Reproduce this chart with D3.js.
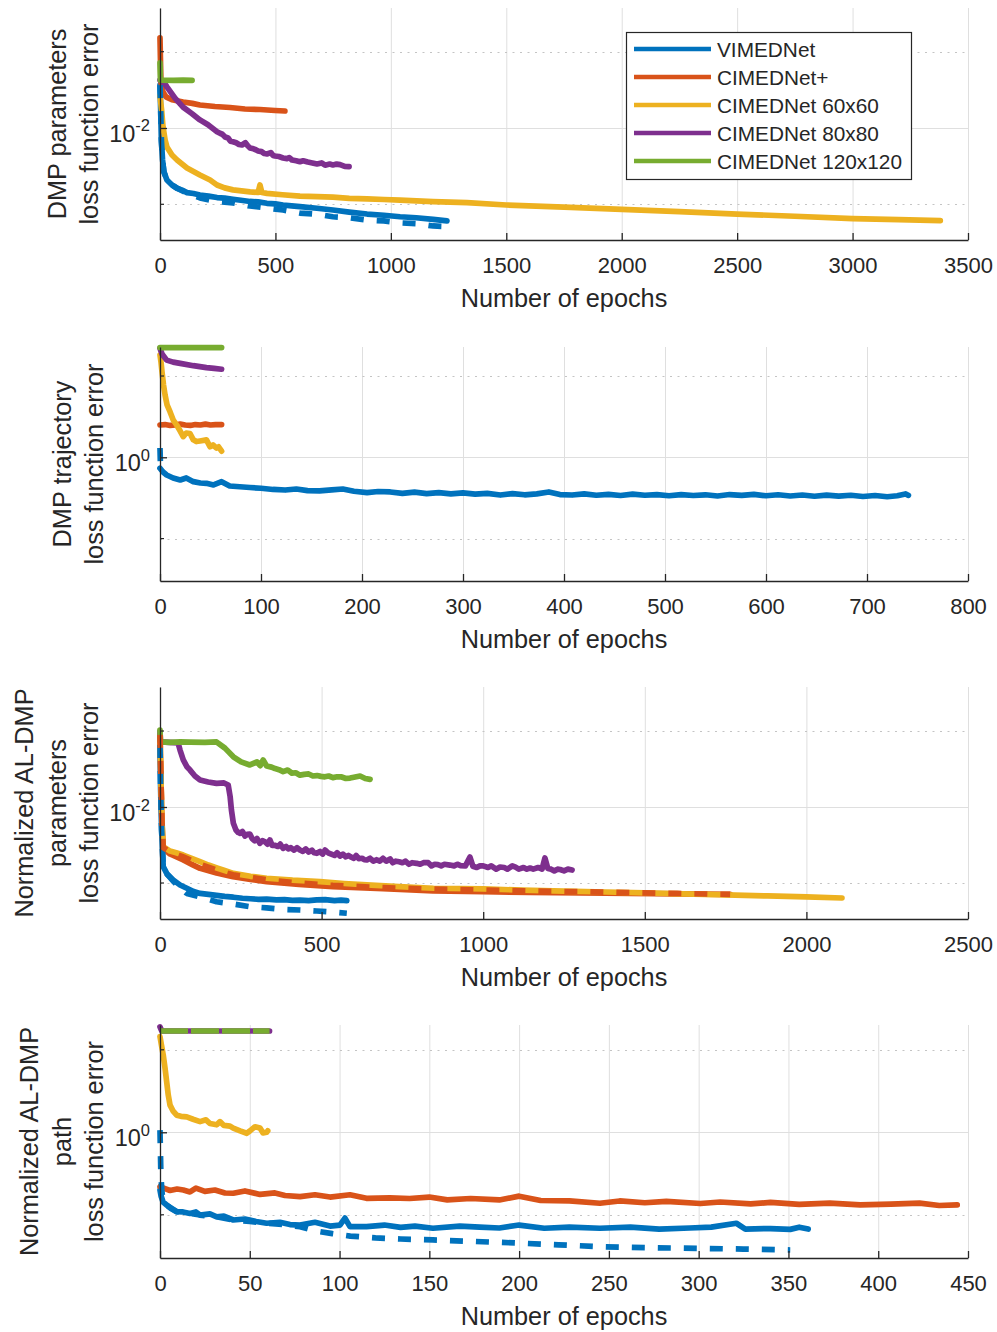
<!DOCTYPE html>
<html>
<head>
<meta charset="utf-8">
<script src="https://cdn.jsdelivr.net/npm/d3@7"></script>
<style>
  body { margin: 0; background: #fff; }
  svg { display: block; }
  text { font-family: "Liberation Sans", Arial, Helvetica, sans-serif; fill: #262626; }
</style>
</head>
<body>
<svg id="chart" width="997" height="1332"></svg>
<script>
// ---- series ----
const seriesNames = ["VIMEDNet", "CIMEDNet+", "CIMEDNet 60x60", "CIMEDNet 80x80", "CIMEDNet 120x120"];
const seriesColors = ["#0072BD", "#D95319", "#EDB120", "#7E2F8E", "#77AC30"];

// ---- DMP parameters loss, [epoch, loss] ----
const p1Vimed = [[0,0.0191],[3,0.0131],[6,0.00834],[11,0.00617],[17,0.00515],[30,0.00456],[52,0.00423],[74,0.00403],[95,0.00392],[117,0.00377],[145,0.00372],[173,0.00364],[210,0.00358],[247,0.0035],[280,0.00347],[316,0.00341],[350,0.00336],[390,0.0033],[425,0.00328],[463,0.00321],[500,0.00318],[533,0.00313],[570,0.00309],[606,0.00305],[680,0.00298],[749,0.0029],[820,0.00281],[897,0.00273],[970,0.00268],[1040,0.00262],[1110,0.00258],[1183,0.00252],[1243,0.00246]];
const p1VimedVal = [[0,0.0191],[3,0.0131],[6,0.00834],[11,0.00617],[17,0.00515],[30,0.00456],[52,0.00423],[74,0.00403],[117,0.00375],[173,0.00348],[245,0.0033],[316,0.00323],[390,0.00308],[463,0.00299],[533,0.0029],[606,0.00277],[680,0.00272],[749,0.00262],[820,0.00258],[897,0.00249],[970,0.00246],[1040,0.00239],[1110,0.00236],[1183,0.00228],[1243,0.00226]];
const p1CimedPlus = [[0,0.0389],[2,0.0279],[4,0.02],[13,0.0172],[26,0.016],[52,0.0153],[100,0.0148],[140,0.0145],[173,0.01415],[238,0.01383],[303,0.01362],[368,0.01332],[433,0.01322],[498,0.01302],[541,0.01292]];
const p1Cimed60 = [[0,0.0162],[7,0.0131],[13,0.0102],[22,0.00834],[30,0.00751],[52,0.00665],[74,0.00617],[117,0.00547],[173,0.00492],[217,0.00456],[247,0.00423],[280,0.00405],[316,0.00393],[390,0.00381],[425,0.00378],[433,0.00423],[441,0.00378],[463,0.00373],[530,0.00365],[606,0.00358],[680,0.00355],[749,0.00352],[820,0.00346],[897,0.00343],[970,0.0034],[1040,0.00337],[1183,0.00329],[1330,0.00324],[1500,0.00313],[1750,0.00303],[2000,0.00293],[2250,0.00283],[2500,0.00273],[2750,0.00264],[3000,0.00255],[3200,0.00251],[3380,0.00247]];
const p1Cimed80 = [[0,0.0206],[4,0.0206],[22,0.0194],[30,0.0186],[65,0.0157],[100,0.0137],[139,0.0124],[173,0.0113],[208,0.0105],[247,0.00946],[262,0.0092],[270,0.0091],[282,0.00873],[295,0.0086],[305,0.0082],[316,0.00813],[330,0.008],[342,0.0078],[355,0.00774],[370,0.008],[380,0.00765],[390,0.0074],[405,0.0073],[415,0.0072],[425,0.00707],[440,0.007],[452,0.0068],[463,0.00676],[480,0.0069],[490,0.0066],[498,0.00655],[515,0.0065],[533,0.00636],[550,0.0063],[560,0.0064],[572,0.00617],[590,0.0061],[606,0.00601],[620,0.0061],[640,0.00598],[660,0.0059],[680,0.00581],[700,0.0059],[715,0.0057],[735,0.0058],[749,0.00572],[765,0.0058],[780,0.00575],[800,0.0056],[819,0.00558]];
const p1Cimed120 = [[0,0.0267],[2,0.0206],[60,0.0205],[100,0.0206],[139,0.0205]];

// ---- DMP trajectory loss ----
const p2Vimed = [[0,0.856],[3,0.812],[6.6,0.778],[13,0.746],[20,0.725],[26,0.746],[33,0.708],[40,0.695],[46,0.692],[53,0.676],[61,0.708],[69,0.666],[79,0.659],[89,0.652],[100,0.645],[112,0.634],[124,0.629],[135,0.638],[146,0.624],[158,0.621],[170,0.63],[181,0.638],[192,0.618],[205,0.606],[216,0.616],[228,0.612],[240,0.6],[252,0.61],[264,0.598],[276,0.606],[288,0.596],[300,0.604],[312,0.594],[324,0.6],[337,0.586],[349,0.598],[361,0.588],[373,0.596],[385,0.612],[396,0.59],[408,0.586],[420,0.596],[432,0.584],[444,0.592],[456,0.582],[468,0.594],[480,0.584],[492,0.59],[504,0.58],[516,0.59],[528,0.582],[540,0.588],[552,0.578],[564,0.59],[576,0.583],[588,0.592],[600,0.58],[612,0.588],[624,0.578],[636,0.586],[648,0.576],[660,0.585],[672,0.577],[684,0.584],[696,0.574],[708,0.582],[720,0.572],[730,0.58],[738,0.595],[741,0.584]];
const p2VimedVal = [[0,1.14],[0.3,0.97],[0.6,0.86]];
const p2CimedPlus = [[0,1.58],[5,1.59],[10,1.57],[15,1.58],[20,1.6],[25,1.58],[30,1.57],[35,1.59],[40,1.58],[45,1.6],[50,1.58],[55,1.59],[61,1.59]];
const p2Cimed60 = [[0,4.26],[1,3.85],[2,3.35],[3.5,2.78],[5,2.42],[7,2.1],[10,1.9],[13,1.7],[16.5,1.58],[20,1.45],[23,1.34],[26,1.41],[29.7,1.4],[33,1.28],[36,1.25],[39.6,1.26],[46,1.28],[49.5,1.16],[52.5,1.19],[56,1.14],[58,1.16],[61,1.09]];
const p2Cimed80 = [[0,4.68],[2,4.32],[6.6,3.96],[13,3.85],[20,3.78],[33,3.66],[46,3.56],[53.5,3.52],[61,3.48]];
const p2Cimed120 = [[0,4.73],[20,4.73],[40,4.73],[61,4.73]];

// ---- Normalized AL-DMP parameters loss ----
const p3Vimed = [[0,0.0256],[2,0.0129],[5,0.00706],[10,0.00405],[22,0.00362],[41,0.00331],[62,0.00307],[83,0.00292],[104,0.00278],[124,0.0027],[150,0.00266],[175,0.00262],[200,0.00258],[227,0.00255],[255,0.00251],[280,0.00249],[305,0.00247],[330,0.00248],[360,0.00245],[385,0.00246],[410,0.00243],[433,0.00244],[460,0.00242],[485,0.00245],[511,0.00246],[540,0.00242],[560,0.00244],[578,0.00242]];
const p3VimedVal = [[0,0.0256],[2,0.0129],[5,0.00706],[10,0.00405],[22,0.00362],[41,0.00325],[62,0.00295],[83,0.0027],[124,0.00256],[175,0.00238],[226,0.0023],[278,0.00221],[330,0.00217],[381,0.00212],[433,0.0021],[485,0.00207],[530,0.00204],[578,0.002]];
const p3CimedPlus = [[0,0.0298],[3,0.01505],[6,0.00797],[10,0.00535],[31,0.00491],[72,0.00448],[100,0.00418],[124,0.00395],[175,0.00368],[226,0.00348],[280,0.00334],[330,0.00323],[430,0.0031],[535,0.00299],[690,0.0029],[845,0.00281],[1000,0.00277],[1145,0.00274],[1300,0.00272],[1454,0.0027],[1600,0.00268],[1764,0.00266]];
const p3CimedPlusVal = [[0,0.0298],[3,0.0151],[6,0.0081],[10,0.0054],[31,0.00505],[72,0.0047],[124,0.0042],[175,0.00385],[226,0.00358],[330,0.00332],[430,0.00316],[535,0.00305],[690,0.00295],[845,0.00288],[1000,0.00284],[1145,0.0028],[1300,0.00277],[1454,0.00273],[1600,0.0027],[1764,0.00266]];
const p3Cimed60 = [[0,0.0298],[3,0.01505],[6,0.00821],[10,0.00548],[31,0.00513],[50,0.005],[72,0.00483],[100,0.00458],[124,0.00437],[150,0.00415],[176,0.00397],[200,0.00382],[227,0.00366],[280,0.0035],[330,0.0034],[410,0.0033],[495,0.00323],[570,0.00314],[640,0.00307],[740,0.00299],[846,0.00292],[1000,0.00289],[1120,0.00284],[1250,0.0028],[1380,0.00276],[1500,0.00272],[1620,0.00268],[1750,0.00264],[1880,0.0026],[2000,0.00256],[2110,0.00252]];
const p3Cimed80 = [[0,0.0313],[1.5,0.0268],[56,0.0264],[62,0.0237],[72,0.0204],[84,0.0183],[93,0.0175],[108,0.016],[124,0.01505],[149,0.0146],[175,0.0143],[198,0.0144],[211,0.01395],[217,0.0117],[221,0.00956],[227,0.00781],[235,0.00706],[242,0.0068],[248,0.00671],[255,0.0069],[263,0.00644],[270,0.0066],[278,0.00664],[285,0.0062],[293,0.006],[300,0.0062],[309,0.00577],[317,0.006],[325,0.0059],[332,0.0057],[340,0.00607],[347,0.0056],[355,0.0056],[365,0.0055],[372,0.0057],[381,0.00535],[390,0.0055],[397,0.0053],[405,0.0054],[415,0.0052],[424,0.0054],[433,0.00521],[442,0.0051],[451,0.0053],[460,0.00505],[470,0.0052],[477,0.005],[485,0.00496],[495,0.0051],[503,0.0049],[511,0.00521],[520,0.005],[530,0.0049],[540,0.0048],[548,0.005],[557,0.00476],[566,0.0049],[575,0.0047],[583,0.0048],[590,0.0047],[600,0.0046],[607,0.0048],[615,0.00458],[625,0.0046],[632,0.0045],[640,0.00448],[650,0.0046],[660,0.0044],[670,0.0045],[680,0.0044],[690,0.0046],[700,0.0044],[712,0.00455],[720,0.0043],[730,0.0044],[740,0.00436],[750,0.0043],[760,0.0044],[770,0.0042],[780,0.0043],[794,0.00426],[805,0.0042],[815,0.0043],[830,0.0043],[840,0.0041],[850,0.0042],[860,0.00418],[870,0.0041],[880,0.0042],[897,0.00415],[910,0.0041],[920,0.0042],[930,0.00412],[945,0.0041],[959,0.00469],[968,0.00408],[980,0.004],[990,0.0041],[1000,0.0041],[1015,0.004],[1025,0.0041],[1040,0.0039],[1052,0.00403],[1065,0.004],[1075,0.0039],[1090,0.0041],[1100,0.00402],[1110,0.0039],[1125,0.004],[1135,0.0039],[1145,0.00397],[1155,0.0039],[1170,0.004],[1182,0.0039],[1191,0.00462],[1200,0.00394],[1210,0.0039],[1220,0.0038],[1230,0.0039],[1238,0.00388],[1250,0.0038],[1262,0.0039],[1275,0.00385]];
const p3Cimed120 = [[0,0.0321],[1.5,0.0268],[31,0.0266],[62,0.0268],[93,0.0267],[139,0.0266],[175,0.0268],[201,0.0244],[227,0.0214],[251,0.0198],[278,0.0189],[300,0.0198],[310,0.0187],[319,0.0204],[330,0.0186],[345,0.0183],[356,0.0179],[368,0.0176],[381,0.0171],[395,0.0175],[408,0.0167],[420,0.0168],[433,0.0162],[446,0.0164],[460,0.0165],[473,0.016],[486,0.0161],[498,0.0159],[510,0.0158],[522,0.016],[535,0.0156],[548,0.0158],[560,0.0158],[575,0.0154],[588,0.0155],[600,0.0157],[619,0.016],[635,0.0154],[650,0.0152]];

// ---- Normalized AL-DMP path loss ----
const p4Vimed = [[0,0.447],[0.6,0.411],[1.7,0.378],[3.7,0.3625],[6.1,0.345],[9.3,0.33],[12.8,0.329],[16.7,0.322],[20,0.329],[22.3,0.315],[27.8,0.32],[31.6,0.307],[35.6,0.31],[40.8,0.294],[47.3,0.298],[53.5,0.288],[59.4,0.281],[66.8,0.285],[72.4,0.276],[78,0.274],[86.3,0.285],[94.7,0.27],[100.2,0.274],[103,0.302],[105.8,0.268],[115,0.268],[125,0.274],[134,0.265],[142,0.27],[152,0.262],[167,0.27],[178,0.266],[189,0.263],[200,0.274],[214,0.262],[228,0.266],[245,0.262],[262,0.266],[278,0.259],[295,0.263],[307,0.266],[321,0.281],[326,0.259],[340,0.261],[351,0.258],[356,0.266],[361,0.259]];
const p4VimedVal = [[0,1.03],[0.5,0.551],[1,0.447],[1.7,0.378],[3.7,0.3625],[9.3,0.33],[16.7,0.322],[22.3,0.315],[31.6,0.307],[40.8,0.294],[50,0.288],[59.4,0.281],[68,0.276],[78,0.268],[87,0.252],[96,0.243],[106,0.235],[120,0.229],[134,0.2256],[152,0.2225],[175,0.218],[200,0.213],[222,0.208],[245,0.2026],[270,0.2],[301,0.1977],[325,0.196],[351,0.1935]];
const p4CimedPlus = [[0,0.468],[2.8,0.456],[5.6,0.444],[9.5,0.453],[13,0.447],[16.7,0.435],[20,0.459],[25,0.438],[30.6,0.447],[36.2,0.4286],[40.8,0.427],[47.3,0.441],[55.7,0.42],[64,0.429],[69.6,0.414],[78,0.407],[86.3,0.418],[94.7,0.405],[105.8,0.418],[115,0.398],[128,0.4],[139,0.397],[150,0.405],[160,0.389],[173,0.397],[189,0.389],[200,0.41],[212,0.386],[228,0.3835],[245,0.3715],[256,0.3835],[270,0.374],[282,0.381],[301,0.37],[312,0.378],[329,0.368],[340,0.376],[356,0.366],[373,0.372],[390,0.363],[407,0.367],[423,0.372],[434,0.36],[444,0.363]];
const p4Cimed60 = [[0,3.8],[0.8,3.38],[1.8,2.94],[2.8,2.45],[3.7,2.03],[4.6,1.68],[5.6,1.46],[7.2,1.35],[9.3,1.27],[11.7,1.25],[14.9,1.24],[18.4,1.2],[22.3,1.16],[25.6,1.19],[27.8,1.13],[31.6,1.11],[33.4,1.16],[35.6,1.1],[39,1.09],[40.8,1.06],[44.6,1.02],[48.3,0.986],[50.1,1.02],[52.9,1.08],[55.7,1.06],[57.4,0.99],[59.4,1.0],[60,1.02]];
const p4Cimed80 = [[0,4.35],[1,4.11],[61,4.11]];
const p4Cimed120Val = [[0,4.11],[61,4.11]];

// ---- axes and panels ----
const xTickStep = [500, 100, 500, 50];
const xMaxima = [3500, 800, 2500, 450];
const yLabels = [
  ["DMP parameters", "loss function error"],
  ["DMP trajectory", "loss function error"],
  ["Normalized AL-DMP", "parameters", "loss function error"],
  ["Normalized AL-DMP", "path", "loss function error"]
];
const yDomains = [[0.001845, 0.06114], [0.1734, 4.769], [0.001833, 0.0616], [0.1730, 4.469]];
const yMajorTicks = [[0.01], [1], [0.01], [1]];
const yMinorTicks = [[0.003162, 0.03162], [0.3162, 3.162], [0.003162, 0.03162], [0.3162, 3.162]];

const panels = [
  { top: 8, bottom: 240, labelX: 98,
    solid: [[0, p1Vimed], [1, p1CimedPlus], [2, p1Cimed60], [3, p1Cimed80], [4, p1Cimed120]],
    dashed: [[0, p1VimedVal]] },
  { top: 347, bottom: 581, labelX: 103,
    solid: [[0, p2Vimed], [1, p2CimedPlus], [2, p2Cimed60], [3, p2Cimed80], [4, p2Cimed120]],
    dashed: [[0, p2VimedVal]] },
  { top: 687, bottom: 919, labelX: 98,
    solid: [[0, p3Vimed], [1, p3CimedPlus], [2, p3Cimed60], [3, p3Cimed80], [4, p3Cimed120]],
    dashed: [[0, p3VimedVal], [1, p3CimedPlusVal]] },
  { top: 1025, bottom: 1258, labelX: 103,
    solid: [[0, p4Vimed], [1, p4CimedPlus], [2, p4Cimed60], [3, p4Cimed80]],
    dashed: [[0, p4VimedVal], [4, p4Cimed120Val, "28,3"]] }
];

const svg = d3.select("#chart");
const left = 160, right = 968;
const axisColor = "#262626";
const lineWidth = 5.7;

panels.forEach((p, i) => {
  const x = d3.scaleLinear().domain([0, xMaxima[i]]).range([left, right]);
  const y = d3.scaleLog().domain(yDomains[i]).range([p.bottom, p.top]);
  const g = svg.append("g");
  const xTicks = d3.range(0, xMaxima[i] + 1, xTickStep[i]);

  // grid
  g.append("g").selectAll("line").data(xTicks).join("line")
    .attr("x1", d => x(d) + 0.5).attr("x2", d => x(d) + 0.5)
    .attr("y1", p.top).attr("y2", p.bottom)
    .attr("stroke", "#dfdfdf").attr("stroke-width", 1);
  g.append("g").selectAll("line").data(yMajorTicks[i]).join("line")
    .attr("x1", left).attr("x2", right)
    .attr("y1", d => Math.round(y(d)) + 0.5).attr("y2", d => Math.round(y(d)) + 0.5)
    .attr("stroke", "#dfdfdf").attr("stroke-width", 1);
  g.append("g").selectAll("line").data(yMinorTicks[i]).join("line")
    .attr("x1", left).attr("x2", right)
    .attr("y1", d => Math.round(y(d)) + 0.5).attr("y2", d => Math.round(y(d)) + 0.5)
    .attr("stroke", "#c4c4c4").attr("stroke-width", 1).attr("stroke-dasharray", "2,5.5");

  // curves
  const line = d3.line().x(d => x(d[0])).y(d => y(d[1]));
  g.append("g").selectAll("path").data(p.solid).join("path")
    .attr("d", d => line(d[1]))
    .attr("fill", "none")
    .attr("stroke", d => seriesColors[d[0]])
    .attr("stroke-width", lineWidth)
    .attr("stroke-linejoin", "round")
    .attr("stroke-linecap", "round");
  g.append("g").selectAll("path").data(p.dashed).join("path")
    .attr("d", d => line(d[1]))
    .attr("fill", "none")
    .attr("stroke", d => seriesColors[d[0]])
    .attr("stroke-width", lineWidth)
    .attr("stroke-linejoin", "round")
    .attr("stroke-dasharray", d => d[2] || "13,13");

  // x axis
  const xAxis = g.append("g")
    .attr("transform", `translate(0,${p.bottom})`)
    .call(d3.axisBottom(x).tickValues(xTicks).tickFormat(d3.format("d"))
      .tickSizeInner(-7).tickSizeOuter(0).tickPadding(17.5));
  xAxis.select(".domain").attr("stroke", axisColor).attr("stroke-width", 1.3);
  xAxis.selectAll(".tick line").attr("stroke", axisColor).attr("stroke-width", 1.3);
  xAxis.selectAll(".tick text").style("font-size", "22px")
    .style("font-family", "'Liberation Sans', Arial, sans-serif").attr("fill", axisColor);

  // y axis
  const yAxis = g.append("g")
    .attr("transform", `translate(${left},0)`)
    .call(d3.axisLeft(y).tickValues(yMajorTicks[i]).tickSizeInner(-7).tickSizeOuter(0).tickFormat(() => ""));
  yAxis.select(".domain").attr("stroke", axisColor).attr("stroke-width", 1.3);
  yAxis.selectAll(".tick line").attr("stroke", axisColor).attr("stroke-width", 1.3);
  g.append("g").selectAll("line").data(yMinorTicks[i]).join("line")
    .attr("x1", left).attr("x2", left + 4)
    .attr("y1", d => y(d)).attr("y2", d => y(d))
    .attr("stroke", axisColor).attr("stroke-width", 1.2);

  // y tick labels as powers of ten
  yMajorTicks[i].forEach(v => {
    const e = Math.round(Math.log10(v));
    const t = g.append("text")
      .attr("x", 150).attr("y", y(v) + 14)
      .attr("text-anchor", "end")
      .style("font-size", "23.5px");
    t.append("tspan").text("10");
    t.append("tspan").attr("dy", -10.5).style("font-size", "16.5px").text(e < 0 ? "-" + (-e) : String(e));
  });

  // axis titles
  g.append("text")
    .attr("x", (left + right) / 2).attr("y", p.bottom + 67)
    .attr("text-anchor", "middle").style("font-size", "25.3px")
    .text("Number of epochs");
  const n = yLabels[i].length;
  yLabels[i].forEach((s, k) => {
    const bx = p.labelX - (n - 1 - k) * 32.5;
    g.append("text")
      .attr("transform", `translate(${bx},${(p.top + p.bottom) / 2}) rotate(-90)`)
      .attr("text-anchor", "middle").style("font-size", "25.3px")
      .text(s);
  });
});

// legend in the first panel
const legend = svg.append("g").attr("transform", "translate(626,32)");
legend.append("rect").attr("x", 0.5).attr("y", 0.5).attr("width", 285).attr("height", 147)
  .attr("fill", "#fff").attr("stroke", axisColor).attr("stroke-width", 1.2);
const rows = legend.selectAll("g.row").data(seriesNames).join("g")
  .attr("class", "row")
  .attr("transform", (d, k) => `translate(0,${17 + k * 28})`);
rows.append("line").attr("x1", 8).attr("x2", 85).attr("y1", 0).attr("y2", 0)
  .attr("stroke", (d, k) => seriesColors[k]).attr("stroke-width", 4.3);
rows.append("text").attr("x", 91).attr("y", 7.5).style("font-size", "20.8px").text(d => d);
</script>
</body>
</html>
